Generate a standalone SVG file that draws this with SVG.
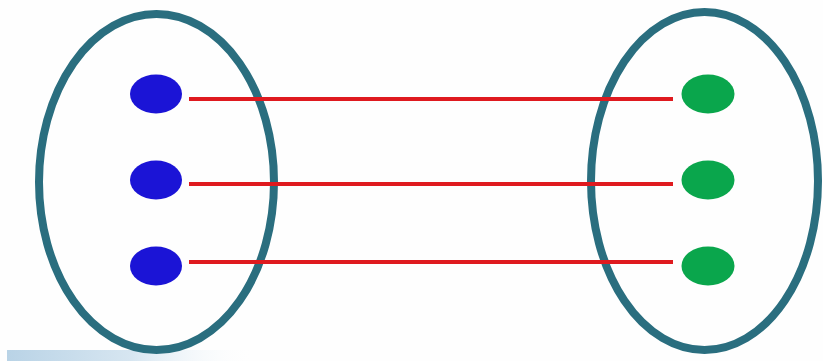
<svg xmlns="http://www.w3.org/2000/svg" width="823" height="361" viewBox="0 0 823 361">
  <defs>
    <linearGradient id="bar" x1="0" y1="0" x2="1" y2="0">
      <stop offset="0" stop-color="#b9d3e6"/>
      <stop offset="0.5" stop-color="#d7e6f1"/>
      <stop offset="1" stop-color="#ffffff" stop-opacity="0"/>
    </linearGradient>
    <style>
      .set { fill: none; stroke: #2a6e7f; stroke-width: 8; }
      .a { fill: #1b14d6; }
      .b { fill: #0aa64c; }
      .edge { stroke: #df1a1f; stroke-width: 4; stroke-linecap: butt; }
    </style>
  </defs>
  <rect width="823" height="361" fill="#fefefe"/>
  <rect x="7" y="350" width="250" height="11" fill="url(#bar)"/>
  <g id="setA">
    <ellipse class="set" cx="156.5" cy="182" rx="117.5" ry="168"/>
  </g>
  <g id="setB">
    <ellipse class="set" cx="704.5" cy="181" rx="113.5" ry="169"/>
  </g>
  <g id="connectors">
    <line class="edge" x1="189" y1="99" x2="673" y2="99"/>
    <line class="edge" x1="189" y1="184" x2="673" y2="184"/>
    <line class="edge" x1="189" y1="262" x2="673" y2="262"/>
  </g>
  <g id="a1"><ellipse class="a" cx="156" cy="94" rx="26" ry="19.5"/></g>
  <g id="a2"><ellipse class="a" cx="156" cy="180" rx="26" ry="19.5"/></g>
  <g id="a3"><ellipse class="a" cx="156" cy="266" rx="26" ry="19.5"/></g>
  <g id="b1"><ellipse class="b" cx="708" cy="94" rx="26.5" ry="19.5"/></g>
  <g id="b2"><ellipse class="b" cx="708" cy="180" rx="26.5" ry="19.5"/></g>
  <g id="b3"><ellipse class="b" cx="708" cy="266" rx="26.5" ry="19.5"/></g>
</svg>
